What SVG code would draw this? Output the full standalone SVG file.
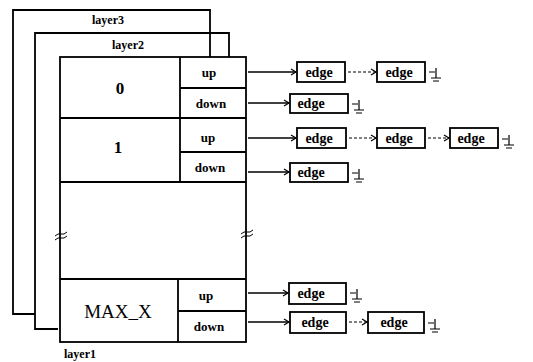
<svg xmlns="http://www.w3.org/2000/svg" width="533" height="362" viewBox="0 0 533 362">
<defs>
<marker id="ah" markerWidth="8" markerHeight="8" refX="6" refY="4" orient="auto" markerUnits="userSpaceOnUse">
<polyline points="1,1 6,4 1,7" fill="none" stroke="#000" stroke-width="1.2"/>
</marker>
<g id="gnd">
<path d="M0,0 H6 M7,-4 V6 M2,6 H12 M4,9 H10" fill="none" stroke="#000" stroke-width="1.2"/>
</g>
</defs>
<style>
.ln{fill:none;stroke:#000;stroke-width:1.8}
.bx{fill:#fff;stroke:#000;stroke-width:1.8}
.t{font-family:"Liberation Serif",serif;font-weight:bold;fill:#000}
.lab{font-size:12px;text-anchor:middle}
.cell{font-size:13px;text-anchor:middle}
.num{font-size:17px;text-anchor:middle}
.e{font-size:14px;text-anchor:middle}
.ar{fill:none;stroke:#000;stroke-width:1.3;marker-end:url(#ah)}
.da{fill:none;stroke:#000;stroke-width:1.2;stroke-dasharray:3,2;marker-end:url(#ah)}
</style>
<rect width="533" height="362" fill="#fff"/>

<g id="layer3">
<path class="ln" d="M35,314 H13 V10 H210 V57"/>
<text class="t lab" x="108" y="24">layer3</text>
</g>
<g id="layer2">
<path class="ln" d="M58,329 H35 V33 H229 V57"/>
<text class="t lab" x="128" y="49">layer2</text>
</g>
<g id="layer1">
<rect class="ln" x="60" y="57" width="186" height="285"/>
<path class="ln" d="M60,118 H246 M60,182 H246 M60,279 H246 M180,57 V182 M178,279 V342 M180,88 H246 M180,152 H246 M178,311 H246"/>
<text class="t num" x="120" y="94">0</text>
<text class="t num" x="118" y="153">1</text>
<text class="t num" x="118" y="318" style="font-size:19px;font-weight:normal">MAX_X</text>
<text class="t cell" x="209" y="77">up</text>
<text class="t cell" x="211" y="108">down</text>
<text class="t cell" x="208" y="142">up</text>
<text class="t cell" x="210" y="172">down</text>
<text class="t cell" x="206" y="300">up</text>
<text class="t cell" x="209" y="331">down</text>
<path d="M55,236 q3,-3 6,-2 q3,1 6,-2 M55,240 q3,-3 6,-2 q3,1 6,-2" fill="none" stroke="#000" stroke-width="1"/>
<path d="M241,234 q3,-3 6,-2 q3,1 6,-2 M241,238 q3,-3 6,-2 q3,1 6,-2" fill="none" stroke="#000" stroke-width="1"/>
<text class="t lab" x="80" y="358">layer1</text>
</g>

<g id="edges-boxes">
<rect class="bx" x="297" y="62" width="48" height="20"/><text class="t e" x="319" y="77">edge</text>
<rect class="bx" x="377" y="62" width="48" height="20"/><text class="t e" x="399" y="77">edge</text>
<rect class="bx" x="290" y="94" width="58" height="19"/><text class="t e" x="311" y="108">edge</text>
<rect class="bx" x="297" y="128" width="49" height="20"/><text class="t e" x="319" y="143">edge</text>
<rect class="bx" x="377" y="128" width="48" height="20"/><text class="t e" x="399" y="143">edge</text>
<rect class="bx" x="450" y="128" width="48" height="20"/><text class="t e" x="471" y="143">edge</text>
<rect class="bx" x="290" y="163" width="58" height="19"/><text class="t e" x="311" y="177">edge</text>
<rect class="bx" x="289" y="283" width="57" height="21"/><text class="t e" x="311" y="298">edge</text>
<rect class="bx" x="290" y="312" width="56" height="21"/><text class="t e" x="315" y="327">edge</text>
<rect class="bx" x="368" y="312" width="56" height="21"/><text class="t e" x="394" y="327">edge</text>
</g>

<g id="connectors">
<path class="ar" d="M248,72 H296"/>
<path class="da" d="M348,72 H376"/>
<path class="ar" d="M248,103 H289"/>
<path class="ar" d="M248,138 H296"/>
<path class="da" d="M349,138 H376"/>
<path class="da" d="M428,138 H449"/>
<path class="ar" d="M248,172 H289"/>
<path class="ar" d="M248,293 H288"/>
<path class="ar" d="M248,322 H289"/>
<path class="da" d="M349,322 H367"/>
<use href="#gnd" x="429" y="72"/>
<use href="#gnd" x="352" y="104"/>
<use href="#gnd" x="502" y="139"/>
<use href="#gnd" x="352" y="173"/>
<use href="#gnd" x="350" y="293"/>
<use href="#gnd" x="428" y="323"/>
</g>
</svg>
